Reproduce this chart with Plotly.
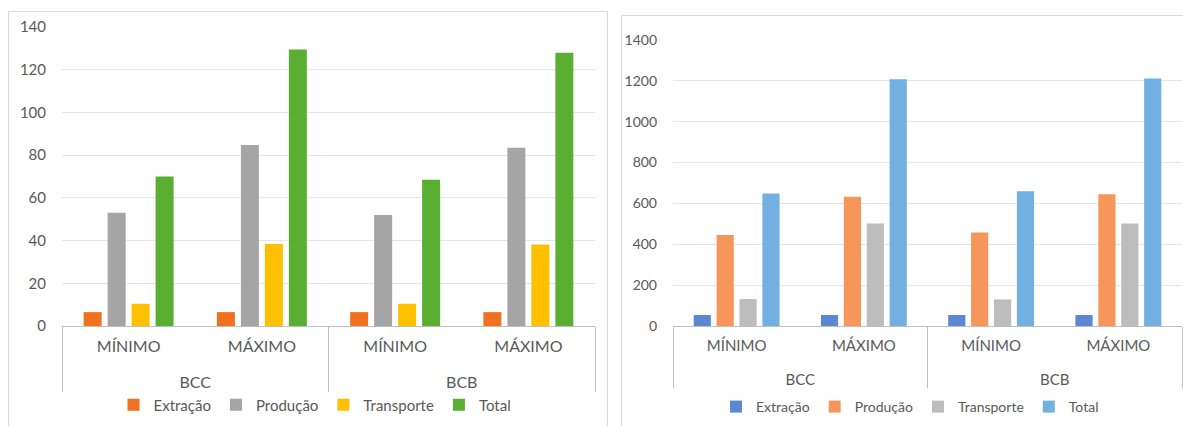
import plotly.graph_objects as go

W, H = 1183, 426

outer = ["BCC", "BCC", "BCB", "BCB"]
inner = ["MÍNIMO", "MÁXIMO", "MÍNIMO", "MÁXIMO"]
series = ["Extração", "Produção", "Transporte", "Total"]

left_extracao = [6.5, 6.5, 6.5, 6.5]
left_producao = [53, 84.7, 52, 83.5]
left_transporte = [10.4, 38.4, 10.4, 38.2]
left_total = [70, 129.5, 68.5, 128]

right_extracao = [54, 54, 54, 54]
right_producao = [445, 633, 458, 645]
right_transporte = [132, 502, 130, 502]
right_total = [648, 1208, 660, 1212]

left_colors = ["#F0711F", "#A5A5A5", "#FFC000", "#5AAF33"]
right_colors = ["#5B87D3", "#F7965A", "#BDBDBD", "#72B0E2"]

FONT = "Lato"
TXT = "#595959"

inner_lbl = [s + "<br> " for s in inner]

fig = go.Figure()
left_vals = [left_extracao, left_producao, left_transporte, left_total]
right_vals = [right_extracao, right_producao, right_transporte, right_total]

for name, vals, col in zip(series, left_vals, left_colors):
    fig.add_trace(go.Bar(x=[outer, inner_lbl], y=vals, name=name, marker_color=col,
                         marker_line_width=0, xaxis="x", yaxis="y", legend="legend",
                         hoverinfo="skip"))
for name, vals, col in zip(series, right_vals, right_colors):
    fig.add_trace(go.Bar(x=[outer, inner_lbl], y=vals, name=name, marker_color=col,
                         marker_line_width=0, xaxis="x2", yaxis="y2", legend="legend2",
                         hoverinfo="skip"))

def px(x):
    return x / W

def py(y):
    return (H - y) / H

def xax(size):
    return dict(type="multicategory", showline=True, linecolor="#BFBFBF", linewidth=1,
                showgrid=False, showdividers=True, dividercolor="#BFBFBF", dividerwidth=1,
                tickfont=dict(family=FONT, size=size, color=TXT), ticks="",
                ticklabelstandoff=6, automargin=False, fixedrange=True)

def yax(size, standoff):
    return dict(showgrid=True, gridcolor="#E6E6E6", gridwidth=1, zeroline=False,
                showline=False, tickfont=dict(family=FONT, size=size, color=TXT),
                ticks="", ticklabelstandoff=standoff, automargin=False, fixedrange=True)

fig.update_layout(
    template="none",
    width=W, height=H,
    margin=dict(l=0, r=0, t=0, b=0),
    paper_bgcolor="white", plot_bgcolor="white",
    barmode="group", bargap=0.28, bargroupgap=0.25,
    showlegend=True,
    xaxis=dict(domain=[px(62), px(595)], anchor="y", **xax(16)),
    yaxis=dict(domain=[py(326), py(27)], anchor="x", range=[0, 140], dtick=20, **yax(15, 15)),
    xaxis2=dict(domain=[px(673), px(1182)], anchor="y2", **xax(15)),
    yaxis2=dict(domain=[py(326), py(40)], anchor="x2", range=[0, 1400], dtick=200, **yax(14, 15)),
    legend=dict(orientation="h", x=px(315), y=py(405), xanchor="center", yanchor="middle",
                font=dict(family=FONT, size=15, color=TXT), bgcolor="rgba(0,0,0,0)",
                itemclick=False, itemdoubleclick=False),
    legend2=dict(orientation="h", x=px(910), y=py(407), xanchor="center", yanchor="middle",
                 font=dict(family=FONT, size=14, color=TXT), bgcolor="rgba(0,0,0,0)",
                 itemclick=False, itemdoubleclick=False),
    shapes=[
        dict(type="rect", xref="paper", yref="paper", x0=px(8.5), x1=px(607.5),
             y0=py(440), y1=py(11.5), line=dict(color="#D9D9D9", width=1), layer="below"),
        dict(type="rect", xref="paper", yref="paper", x0=px(621.5), x1=px(1200),
             y0=py(440), y1=py(15.5), line=dict(color="#D9D9D9", width=1), layer="below"),
    ],
)

fig.write_html("out.html", config={"displayModeBar": False})
